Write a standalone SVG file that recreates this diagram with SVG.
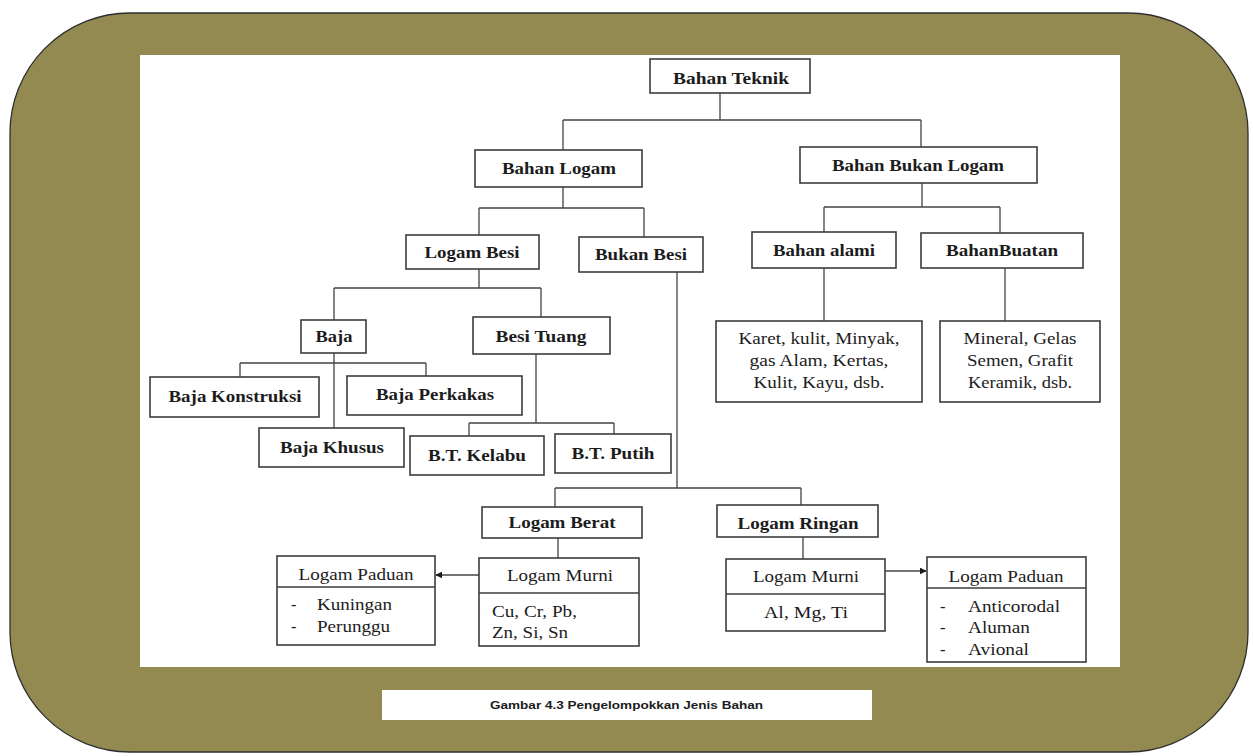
<svg xmlns="http://www.w3.org/2000/svg" width="1253" height="756" viewBox="0 0 1253 756">
  <defs>
    <marker id="arrow" viewBox="0 0 10 10" refX="9" refY="5" markerWidth="7" markerHeight="7" orient="auto" markerUnits="userSpaceOnUse">
      <path d="M0,0 L10,5 L0,10 z" fill="#1a1a1a"/>
    </marker>
    <style>
      .frame { fill: #928a50; stroke: #2e2e2e; stroke-width: 1.3; }
      .panel { fill: #ffffff; }
      .box { fill: #ffffff; stroke: #3c3c3c; stroke-width: 1.6; }
      .div { stroke: #3c3c3c; stroke-width: 1.6; fill: none; }
      .link { stroke: #444444; stroke-width: 1.3; fill: none; }
      .b { font-family: "Liberation Serif", "Times New Roman", serif; font-weight: bold; font-size: 16.5px; fill: #1c1c1c; text-anchor: middle; }
      .r { font-family: "Liberation Serif", "Times New Roman", serif; font-size: 16.5px; fill: #1c1c1c; }
      .rc { text-anchor: middle; }
      .cap { font-family: "Liberation Sans", Arial, sans-serif; font-weight: bold; font-size: 11.5px; fill: #1c1c1c; }
    </style>
  </defs>

  <!-- olive rounded frame and white drawing panel -->
  <rect class="frame" x="10" y="13" width="1238" height="739" rx="120" ry="120"/>
  <rect class="panel" x="140" y="55" width="980" height="612"/>

  <!-- caption strip -->
  <g id="caption">
    <rect x="382" y="690" width="490" height="30" fill="#ffffff"/>
    <text class="cap" x="490" y="709" textLength="273" lengthAdjust="spacingAndGlyphs">Gambar 4.3 Pengelompokkan Jenis Bahan</text>
  </g>

  <!-- connectors -->
  <g id="connectors">
    <path class="link" d="M720,93 V120 M563,120 H921 M563,120 V150 M921,120 V147"/>
    <path class="link" d="M563,187 V208 M479,208 H644 M479,208 V235 M644,208 V237"/>
    <path class="link" d="M922,183 V207 M824,207 H1000 M824,207 V232 M1000,207 V233"/>
    <path class="link" d="M824,268 V321 M1005,268 V321"/>
    <path class="link" d="M479,269 V288 M334,288 H541 M334,288 V320 M541,288 V317"/>
    <path class="link" d="M334,353 V428 M240,363 H426 M240,363 V377 M426,363 V376"/>
    <path class="link" d="M536,354 V423 M469,423 H614 M469,423 V436 M614,423 V434"/>
    <path class="link" d="M677,272 V488 M555,488 H801 M555,488 V507 M801,488 V505"/>
    <path class="link" d="M558,538 V558 M803,537 V559"/>
    <path class="link" d="M479,575 H436" marker-end="url(#arrow)"/>
    <path class="link" d="M885,571 H926" marker-end="url(#arrow)"/>
  </g>

  <g id="bahan-teknik">
    <rect class="box" x="650" y="59" width="160" height="34"/>
    <text class="b" x="731" y="84" textLength="116" lengthAdjust="spacingAndGlyphs">Bahan Teknik</text>
  </g>

  <g id="bahan-logam">
    <rect class="box" x="475" y="150" width="167" height="37"/>
    <text class="b" x="559" y="174" textLength="114" lengthAdjust="spacingAndGlyphs">Bahan Logam</text>
  </g>

  <g id="bahan-bukan-logam">
    <rect class="box" x="800" y="147" width="237" height="36"/>
    <text class="b" x="918" y="171" textLength="172" lengthAdjust="spacingAndGlyphs">Bahan Bukan Logam</text>
  </g>

  <g id="logam-besi">
    <rect class="box" x="406" y="235" width="133" height="34"/>
    <text class="b" x="472" y="258" textLength="95" lengthAdjust="spacingAndGlyphs">Logam Besi</text>
  </g>

  <g id="bukan-besi">
    <rect class="box" x="579" y="237" width="124" height="35"/>
    <text class="b" x="641" y="260" textLength="92" lengthAdjust="spacingAndGlyphs">Bukan Besi</text>
  </g>

  <g id="bahan-alami">
    <rect class="box" x="752" y="232" width="144" height="36"/>
    <text class="b" x="824" y="256" textLength="102" lengthAdjust="spacingAndGlyphs">Bahan alami</text>
  </g>

  <g id="bahan-buatan">
    <rect class="box" x="921" y="233" width="162" height="35"/>
    <text class="b" x="1002" y="256" textLength="112" lengthAdjust="spacingAndGlyphs">BahanBuatan</text>
  </g>

  <g id="contoh-alami">
    <rect class="box" x="716" y="321" width="206" height="81"/>
    <text class="r rc" x="819" y="344" textLength="161" lengthAdjust="spacingAndGlyphs">Karet, kulit, Minyak,</text>
    <text class="r rc" x="819" y="366" textLength="139" lengthAdjust="spacingAndGlyphs">gas Alam, Kertas,</text>
    <text class="r rc" x="819" y="388" textLength="131" lengthAdjust="spacingAndGlyphs">Kulit, Kayu, dsb.</text>
  </g>

  <g id="contoh-buatan">
    <rect class="box" x="940" y="321" width="160" height="81"/>
    <text class="r rc" x="1020" y="344" textLength="113" lengthAdjust="spacingAndGlyphs">Mineral, Gelas</text>
    <text class="r rc" x="1020" y="366" textLength="106" lengthAdjust="spacingAndGlyphs">Semen, Grafit</text>
    <text class="r rc" x="1020" y="388" textLength="104" lengthAdjust="spacingAndGlyphs">Keramik, dsb.</text>
  </g>

  <g id="baja">
    <rect class="box" x="301" y="320" width="65" height="33"/>
    <text class="b" x="334" y="342" textLength="37" lengthAdjust="spacingAndGlyphs">Baja</text>
  </g>

  <g id="besi-tuang">
    <rect class="box" x="473" y="317" width="137" height="37"/>
    <text class="b" x="541" y="342" textLength="91" lengthAdjust="spacingAndGlyphs">Besi Tuang</text>
  </g>

  <g id="baja-konstruksi">
    <rect class="box" x="150" y="377" width="169" height="40"/>
    <text class="b" x="235" y="402" textLength="133" lengthAdjust="spacingAndGlyphs">Baja Konstruksi</text>
  </g>

  <g id="baja-perkakas">
    <rect class="box" x="347" y="376" width="175" height="39"/>
    <text class="b" x="435" y="400" textLength="118" lengthAdjust="spacingAndGlyphs">Baja Perkakas</text>
  </g>

  <g id="baja-khusus">
    <rect class="box" x="259" y="428" width="145" height="39"/>
    <text class="b" x="332" y="453" textLength="104" lengthAdjust="spacingAndGlyphs">Baja Khusus</text>
  </g>

  <g id="bt-kelabu">
    <rect class="box" x="410" y="436" width="134" height="39"/>
    <text class="b" x="477" y="461" textLength="98" lengthAdjust="spacingAndGlyphs">B.T. Kelabu</text>
  </g>

  <g id="bt-putih">
    <rect class="box" x="555" y="434" width="116" height="39"/>
    <text class="b" x="613" y="459" textLength="83" lengthAdjust="spacingAndGlyphs">B.T. Putih</text>
  </g>

  <g id="logam-berat">
    <rect class="box" x="482" y="507" width="160" height="31"/>
    <text class="b" x="562" y="528" textLength="107" lengthAdjust="spacingAndGlyphs">Logam Berat</text>
  </g>

  <g id="logam-ringan">
    <rect class="box" x="717" y="505" width="161" height="32"/>
    <text class="b" x="798" y="529" textLength="121" lengthAdjust="spacingAndGlyphs">Logam Ringan</text>
  </g>

  <g id="murni-berat">
    <rect class="box" x="479" y="558" width="160" height="88"/>
    <path class="div" d="M479,593 H639"/>
    <text class="r rc" x="560" y="581" textLength="106" lengthAdjust="spacingAndGlyphs">Logam Murni</text>
    <text class="r" x="492" y="617" textLength="85" lengthAdjust="spacingAndGlyphs">Cu, Cr, Pb,</text>
    <text class="r" x="492" y="638" textLength="76" lengthAdjust="spacingAndGlyphs">Zn, Si, Sn</text>
  </g>

  <g id="paduan-berat">
    <rect class="box" x="277" y="556" width="158" height="89"/>
    <path class="div" d="M277,587 H435"/>
    <text class="r rc" x="356" y="580" textLength="115" lengthAdjust="spacingAndGlyphs">Logam Paduan</text>
    <text class="r" x="291" y="610">-</text>
    <text class="r" x="317" y="610" textLength="75" lengthAdjust="spacingAndGlyphs">Kuningan</text>
    <text class="r" x="291" y="632">-</text>
    <text class="r" x="317" y="632" textLength="73" lengthAdjust="spacingAndGlyphs">Perunggu</text>
  </g>

  <g id="murni-ringan">
    <rect class="box" x="726" y="559" width="159" height="72"/>
    <path class="div" d="M726,594 H885"/>
    <text class="r rc" x="806" y="582" textLength="106" lengthAdjust="spacingAndGlyphs">Logam Murni</text>
    <text class="r rc" x="806" y="618" textLength="84" lengthAdjust="spacingAndGlyphs">Al, Mg, Ti</text>
  </g>

  <g id="paduan-ringan">
    <rect class="box" x="927" y="557" width="159" height="105"/>
    <path class="div" d="M927,588 H1086"/>
    <text class="r rc" x="1006" y="582" textLength="115" lengthAdjust="spacingAndGlyphs">Logam Paduan</text>
    <text class="r" x="940" y="612">-</text>
    <text class="r" x="968" y="612" textLength="92" lengthAdjust="spacingAndGlyphs">Anticorodal</text>
    <text class="r" x="940" y="633">-</text>
    <text class="r" x="968" y="633" textLength="62" lengthAdjust="spacingAndGlyphs">Aluman</text>
    <text class="r" x="940" y="655">-</text>
    <text class="r" x="968" y="655" textLength="61" lengthAdjust="spacingAndGlyphs">Avional</text>
  </g>
</svg>
